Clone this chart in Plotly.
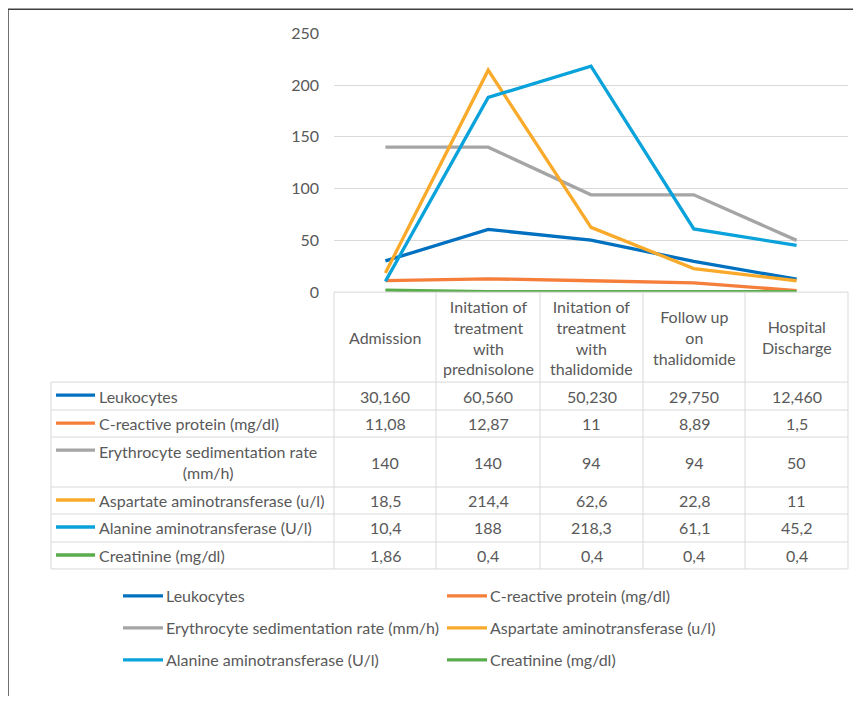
import plotly.graph_objects as go

# page body has an 8px margin: shrink figure so it fits the 861x704 window
OFF = 8
W, H = 861 - 2 * OFF, 704 - 2 * OFF
# measured vertical mapping of the viewer (window_y = SY * y + BY); invert it
SY, BY = 0.973, 10.9

categories = [
    "Admission",
    "Initation of<br>treatment<br>with<br>prednisolone",
    "Initation of<br>treatment<br>with<br>thalidomide",
    "Follow up<br>on<br>thalidomide",
    "Hospital<br>Discharge",
]
series_names = [
    "Leukocytes",
    "C-reactive protein (mg/dl)",
    "Erythrocyte sedimentation rate (mm/h)",
    "Aspartate aminotransferase (u/l)",
    "Alanine aminotransferase (U/l)",
    "Creatinine (mg/dl)",
]
row_labels = [
    "Leukocytes",
    "C-reactive protein (mg/dl)",
    "Erythrocyte sedimentation rate<br>(mm/h)",
    "Aspartate aminotransferase (u/l)",
    "Alanine aminotransferase (U/l)",
    "Creatinine (mg/dl)",
]
leukocytes = [30.16, 60.56, 50.23, 29.75, 12.46]
crp = [11.08, 12.87, 11, 8.89, 1.5]
esr = [140, 140, 94, 94, 50]
ast = [18.5, 214.4, 62.6, 22.8, 11]
alt = [10.4, 188, 218.3, 61.1, 45.2]
creatinine = [1.86, 0.4, 0.4, 0.4, 0.4]
y_ticks = [0, 50, 100, 150, 200, 250]

series = [leukocytes, crp, esr, ast, alt, creatinine]
colors = ["#0070C0", "#F47E3A", "#A5A5A5", "#FAAA2A", "#09A2DA", "#5AAD4C"]

FONT = "Lato"
TXT = "#595959"
GRID = "#D9D9D9"


def fmt(i, v):
    if i == 0:
        return f"{v:.3f}".replace(".", ",")
    return f"{v:g}".replace(".", ",")


def px(x):
    return (x - OFF) / W


def py(y):
    yy = (y - BY) / SY
    return 1 - (yy - OFF) / H


# layout geometry (window pixels)
PL, PR = 334, 848
PT, PB = 34, 293
col_edges = [334, 436, 540, 643, 745, 848]
row_edges = [383, 411, 438, 488, 515, 543, 570]
TL = 51

fig = go.Figure()
xs = list(range(len(categories)))
for name, vals, c in zip(series_names, series, colors):
    fig.add_trace(go.Scatter(x=xs, y=vals, mode="lines", name=name,
                             line=dict(color=c, width=3.3), showlegend=False))

shapes = []
annotations = []

# chart border
shapes.append(dict(type="rect", xref="paper", yref="paper", x0=px(8), x1=px(880),
                   y0=py(740), y1=py(10), line=dict(color="#404040", width=1.5)))

# table lines
line_style = dict(color=GRID, width=1)
shapes.append(dict(type="line", xref="paper", yref="paper", x0=px(PL), x1=px(PR),
                   y0=py(PB), y1=py(PB), line=line_style))
for ry in row_edges:
    shapes.append(dict(type="line", xref="paper", yref="paper", x0=px(TL), x1=px(PR),
                       y0=py(ry), y1=py(ry), line=line_style))
for cx in col_edges:
    shapes.append(dict(type="line", xref="paper", yref="paper", x0=px(cx), x1=px(cx),
                       y0=py(PB), y1=py(row_edges[-1]), line=line_style))
shapes.append(dict(type="line", xref="paper", yref="paper", x0=px(TL), x1=px(TL),
                   y0=py(row_edges[0]), y1=py(row_edges[-1]), line=line_style))

fs = 16
# header
for j, cat in enumerate(categories):
    cx = (col_edges[j] + col_edges[j + 1]) / 2
    annotations.append(dict(x=px(cx), y=py((PB + row_edges[0]) / 2), xref="paper", yref="paper",
                            text=cat, showarrow=False, xanchor="center", yanchor="middle",
                            align="center", font=dict(family=FONT, size=fs, color=TXT)))

# rows
for i, (lab, vals, c) in enumerate(zip(row_labels, series, colors)):
    cy = (row_edges[i] + row_edges[i + 1]) / 2
    shapes.append(dict(type="line", xref="paper", yref="paper", x0=px(56), x1=px(95),
                       y0=py(row_edges[i] + 13), y1=py(row_edges[i] + 13),
                       line=dict(color=c, width=3.3)))
    annotations.append(dict(x=px(97), y=py(cy), xref="paper", yref="paper", text=lab,
                            showarrow=False, xanchor="left", yanchor="middle", align="center",
                            font=dict(family=FONT, size=fs, color=TXT)))
    for j, v in enumerate(vals):
        cx = (col_edges[j] + col_edges[j + 1]) / 2
        annotations.append(dict(x=px(cx), y=py(cy), xref="paper", yref="paper", text=fmt(i, v),
                                showarrow=False, xanchor="center", yanchor="middle",
                                font=dict(family=FONT, size=fs, color=TXT)))

# legend (2 columns)
leg_pos = [(123, 597), (447, 597), (123, 629), (447, 629), (123, 661), (447, 661)]
for (lx, ly), name, c in zip(leg_pos, series_names, colors):
    shapes.append(dict(type="line", xref="paper", yref="paper", x0=px(lx), x1=px(lx + 40),
                       y0=py(ly), y1=py(ly), line=dict(color=c, width=3.3)))
    annotations.append(dict(x=px(lx + 41), y=py(ly), xref="paper", yref="paper", text=name,
                            showarrow=False, xanchor="left", yanchor="middle",
                            font=dict(family=FONT, size=fs, color=TXT)))

fig.update_layout(
    width=W, height=H,
    margin=dict(l=0, r=0, t=0, b=0),
    paper_bgcolor="white", plot_bgcolor="white",
    showlegend=False,
    shapes=shapes, annotations=annotations,
    xaxis=dict(domain=[px(PL), px(PR)], range=[-0.5, 4.5], showticklabels=False,
               showgrid=False, zeroline=False, showline=False, ticks=""),
    yaxis=dict(domain=[py(PB), py(PT)], range=[0, 250], tickvals=y_ticks,
               showgrid=True, gridcolor=GRID, gridwidth=1, zeroline=False, showline=False,
               ticks="", ticklabelstandoff=14,
               tickfont=dict(family=FONT, size=fs, color=TXT)),
)

fig.write_html("out.html")
